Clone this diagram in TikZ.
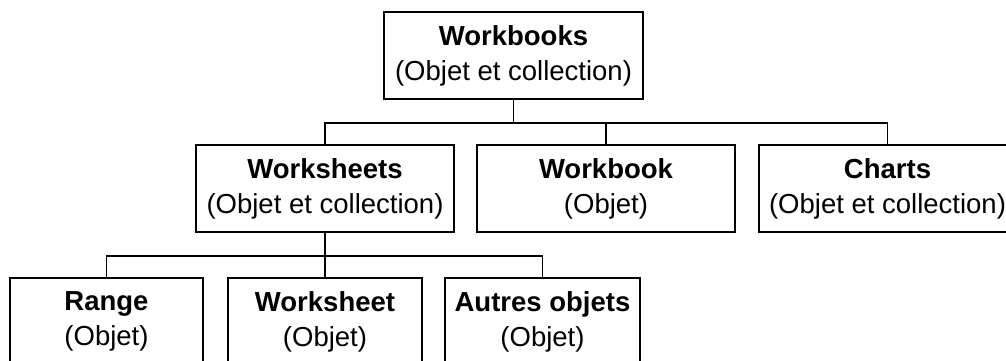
\documentclass[tikz,border=0pt]{standalone}
\usepackage{fontspec}
\setmainfont{Liberation Sans}
\begin{document}
\begin{tikzpicture}[x=1pt,y=1pt,
  box/.style={draw,line width=1.6pt,rectangle,align=center,inner sep=0pt,
    minimum height=87pt,font=\fontsize{27.5}{35}\selectfont},
  wide/.style={box,minimum width=258pt},
  narrow/.style={box,minimum width=194pt},
  link/.style={line width=1.5pt}]
\useasboundingbox (0,0) rectangle (1006,-360);
\clip (0,0) rectangle (1006,-360);
\fill[white] (0,0) rectangle (1006,-360);
\node[wide,minimum width=259pt] (wbs) at (513.5,-55.5) {\textbf{Workbooks}\\(Objet et collection)};
\node[wide] (wss) at (325,-188.5) {\textbf{Worksheets}\\(Objet et collection)};
\node[wide] (wb) at (606,-188.5) {\textbf{Workbook}\\(Objet)};
\node[wide,minimum width=257pt] (ch) at (887.5,-188.5) {\textbf{Charts}\\(Objet et collection)};
\node[narrow,minimum width=193pt] (rg) at (106.5,-321.5) {\textbf{Range}\\(Objet)};
\node[narrow] (wsh) at (325,-321.5) {\textbf{Worksheet}\\(Objet)};
\node[narrow,minimum width=195pt] (aut) at (542.5,-321.5) {\textbf{Autres objets}\\(Objet)};
\draw[link] (wbs.south) -- ++(0,-23) coordinate (b1);
\draw[link] (wss.north) |- (b1) -| (ch.north);
\draw[link] (wb.north) -- (wb.north |- b1);
\draw[link] (wss.south) -- ++(0,-23) coordinate (b2);
\draw[link] (rg.north) |- (b2) -| (aut.north);
\draw[link] (wsh.north) -- (b2);
\end{tikzpicture}
\end{document}
